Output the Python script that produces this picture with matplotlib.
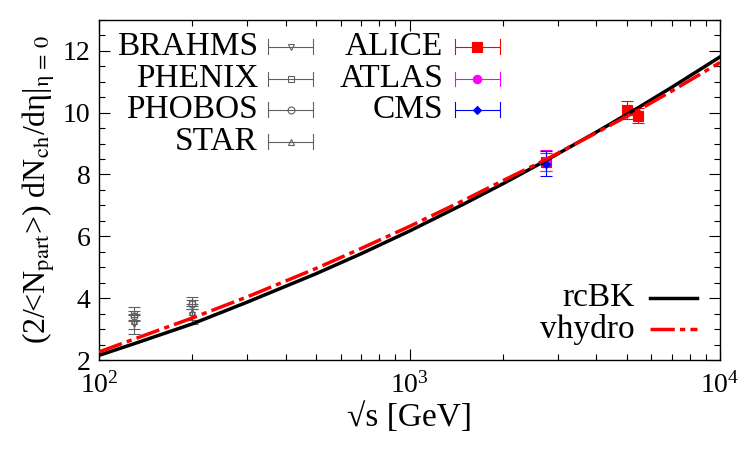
import matplotlib
matplotlib.use("Agg")
import matplotlib.pyplot as plt
from matplotlib.ticker import MultipleLocator, LogLocator, NullFormatter

plt.rcParams['font.family'] = ['Liberation Serif', 'DejaVu Serif']
plt.rcParams['mathtext.fontset'] = 'stix'

# model curves
sqrt_s = [100, 130, 200, 300, 500, 700, 1000, 1500, 2000, 2760, 4000, 5500, 7000, 10000]
rcbk = [2.15, 2.53, 3.17, 3.87, 4.79, 5.44, 6.17, 7.05, 7.70, 8.46, 9.37, 10.18, 10.82, 11.80]
vhydro = [2.26, 2.68, 3.36, 4.04, 4.96, 5.61, 6.32, 7.17, 7.80, 8.49, 9.35, 10.10, 10.70, 11.62]

# data: (energies, values, errors)
brahms_x = [130, 200]
brahms_y = [3.15, 3.45]
brahms_e = [0.30, 0.30]
phenix_x = [130, 200]
phenix_y = [3.50, 3.85]
phenix_e = [0.20, 0.20]
phobos_x = [130, 200]
phobos_y = [3.42, 3.80]
phobos_e = [0.15, 0.15]
star_x = [130, 200]
star_y = [3.25, 3.55]
star_e = [0.25, 0.25]
alice_x = [2760, 5020, 5440]
alice_y = [8.40, 10.08, 9.90]
alice_e = [0.30, 0.30, 0.25]
atlas_x = [2760]
atlas_y = [8.45]
atlas_e = [0.35]
cms_x = [2760]
cms_y = [8.35]
cms_e = [0.40]

gray = "#606060"
datasets = [
    ("BRAHMS", brahms_x, brahms_y, brahms_e, "v", "none", gray, 5),
    ("PHENIX", phenix_x, phenix_y, phenix_e, "s", "none", gray, 5),
    ("PHOBOS", phobos_x, phobos_y, phobos_e, "o", "none", gray, 5),
    ("STAR", star_x, star_y, star_e, "^", "none", gray, 5),
    ("ALICE", alice_x, alice_y, alice_e, "s", "red", "red", 7),
    ("ATLAS", atlas_x, atlas_y, atlas_e, "o", "magenta", "magenta", 6),
    ("CMS", cms_x, cms_y, cms_e, "D", "blue", "blue", 4),
]

fig = plt.figure(figsize=(7.5, 4.5), dpi=100)
ax = fig.add_axes([0.132, 0.2, 0.828, 0.756])

for name, x, y, e, m, fc, c, ms in datasets:
    ax.errorbar(x, y, yerr=e, fmt=m, mfc=fc, mec=c, color=c, ms=ms,
                ecolor=c, elinewidth=0.8, capsize=4, capthick=0.8, mew=0.8, zorder=3)

dashdot = (0, (7, 1.5, 1.5, 1.5))
ax.plot(sqrt_s, rcbk, color='black', lw=2.5, zorder=4)
ax.plot(sqrt_s, vhydro, color='red', lw=2.5, ls=dashdot, zorder=5)

ax.set_xscale('log')
ax.set_xlim(100, 10000)
ax.set_ylim(2, 13)
ax.yaxis.set_major_locator(MultipleLocator(2))
ax.yaxis.set_minor_locator(MultipleLocator(0.5))
ax.xaxis.set_minor_locator(LogLocator(base=10, subs=range(2, 10)))
ax.xaxis.set_minor_formatter(NullFormatter())
ax.tick_params(which='both', direction='in', top=True, right=True, labelsize=20)
ax.tick_params(which='major', length=8, width=0.8)
ax.tick_params(which='minor', length=4, width=0.8)
ax.tick_params(axis='x', pad=9)
ax.tick_params(axis='y', pad=6)
for s in ax.spines.values():
    s.set_linewidth(1.0)

ax.set_xlabel("\u221as [GeV]", fontsize=24, labelpad=2)
ax.set_ylabel("(2/<N$_{\\rm part}$>) dN$_{\\rm ch}$/dη|$_{\\rm η\\,=\\,0}$", fontsize=23, labelpad=4)

# legend drawn in gnuplot style: label, then horizontal bar with caps and marker
def key_entry(tx, ty, name, m, fc, c, ms, x0, x1):
    ax.text(tx, ty, name, transform=ax.transAxes, ha='right', va='center', fontsize=24)
    ax.plot([x0, x1], [ty, ty], color=c, lw=0.8, transform=ax.transAxes, clip_on=False)
    for xc in (x0, x1):
        ax.plot([xc, xc], [ty - 0.022, ty + 0.022], color=c, lw=0.8,
                transform=ax.transAxes, clip_on=False)
    ax.plot([(x0 + x1) / 2], [ty], marker=m, mfc=fc, mec=c, ms=ms, mew=0.8,
            transform=ax.transAxes, clip_on=False)

rows = [0.921, 0.826, 0.735, 0.641]
for i, d in enumerate(datasets[:4]):
    key_entry(0.256, rows[i], d[0], d[4], d[5], d[6], d[7], 0.272, 0.345)
for i, d in enumerate(datasets[4:]):
    key_entry(0.554, rows[i], d[0], d[4], d[5], d[6], d[7], 0.573, 0.646)

ax.text(0.863, 0.182, "rcBK", transform=ax.transAxes, ha='right', va='center', fontsize=24)
ax.plot([0.887, 0.963], [0.182, 0.182], color='black', lw=2.5, transform=ax.transAxes)
ax.text(0.863, 0.091, "vhydro", transform=ax.transAxes, ha='right', va='center', fontsize=24)
ax.plot([0.887, 0.963], [0.091, 0.091], color='red', lw=2.5, ls=dashdot,
        transform=ax.transAxes)

fig.savefig("out.png", dpi=100)
